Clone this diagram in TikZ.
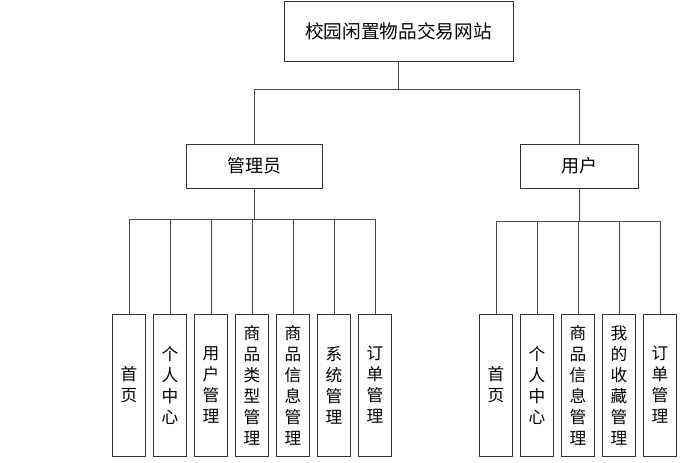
\documentclass[tikz,border=0pt]{standalone}
\usepackage{fontspec}
\setmainfont{Noto Sans CJK SC}
\usetikzlibrary{positioning}

\tikzset{
    box/.style={draw=black!80, line width=0.75pt, fill=white, inner sep=0pt, align=center},
    leaf/.style={box, minimum width=24.75pt, minimum height=106.5pt, font=\fontsize{12.5}{15.75}\selectfont},
    link/.style={draw=black!70, line width=0.75pt},
}

\begin{document}
\begin{tikzpicture}[x=0.75pt, y=-0.75pt]
    \useasboundingbox (0,0) rectangle (685,462);

    % top level
    \node[box, minimum width=171.75pt, minimum height=45pt, font=\fontsize{14}{16}\selectfont] (site) at (398.5,31) {校园闲置物品交易网站};
    \node[box, minimum width=102pt, minimum height=33pt, font=\fontsize{13.5}{16}\selectfont] (admin) at (254,166) {管理员};
    \node[box, minimum width=88.5pt, minimum height=33pt, font=\fontsize{13.5}{16}\selectfont] (user) at (579,166) {用户};

    \draw[link] (site.south) -- ++(0,28) -| (admin.north);
    \draw[link] (site.south) -- ++(0,28) -| (user.north);

    % admin modules
    \foreach \x/\t [count=\i] in {129/{首\\页}, 170/{个\\人\\中\\心}, 211/{用\\户\\管\\理}, 252/{商\\品\\类\\型\\管\\理}, 293/{商\\品\\信\\息\\管\\理}, 334/{系\\统\\管\\理}, 375/{订\\单\\管\\理}} {
        \node[leaf] (a\i) at (\x,385) {\t};
        \draw[link] (admin.south) -- ++(0,31) -| (a\i.north);
    }

    % user modules
    \foreach \x/\t [count=\i] in {496/{首\\页}, 537/{个\\人\\中\\心}, 578/{商\\品\\信\\息\\管\\理}, 619/{我\\的\\收\\藏\\管\\理}, 660/{订\\单\\管\\理}} {
        \node[leaf] (u\i) at (\x,385) {\t};
        \draw[link] (user.south) -- ++(0,33) -| (u\i.north);
    }
\end{tikzpicture}
\end{document}
